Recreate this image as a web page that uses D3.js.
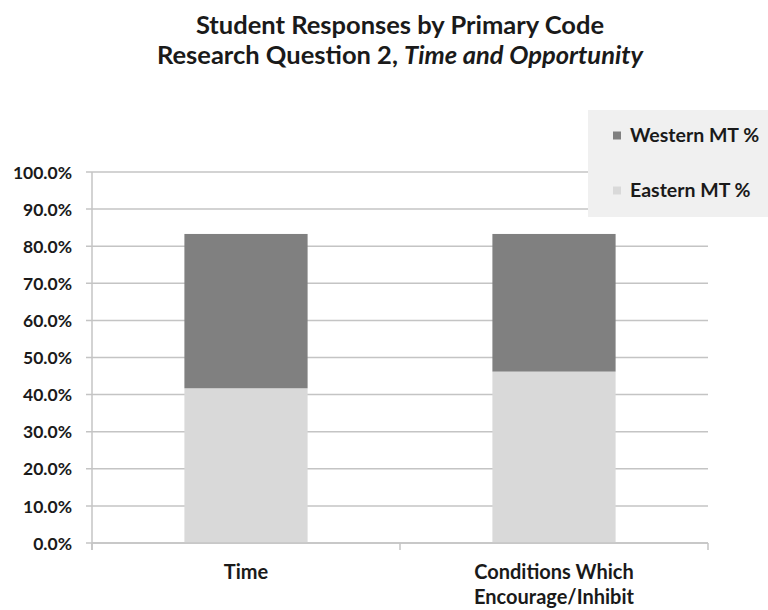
<!DOCTYPE html>
<html>
<head>
<meta charset="utf-8">
<script src="https://cdn.jsdelivr.net/npm/d3@7"></script>
<style>
  body { margin: 0; background: #fff; }
  text { font-family: Lato, "Open Sans", sans-serif; font-weight: bold; fill: #1a1a1a; }
</style>
</head>
<body>
<script>
// chart data
var categories = ["Time", "Conditions Which Encourage/Inhibit"];
var catLines = [["Time"], ["Conditions Which", "Encourage/Inhibit"]];
var easternPct = [0.417, 0.462];
var westernPct = [0.416, 0.371];
var seriesNames = ["Western MT %", "Eastern MT %"];
var yTicks = [0, 0.1, 0.2, 0.3, 0.4, 0.5, 0.6, 0.7, 0.8, 0.9, 1.0];

var w = 768, h = 610;
var svg = d3.select("body").append("svg").attr("width", w).attr("height", h);

var x = d3.scaleBand()
    .domain(categories)
    .range([92, 708])
    .paddingInner(0.6)
    .paddingOuter(0.3);

var y = d3.scaleLinear().domain([0, 1]).range([543, 172]);

// gridlines
svg.append("g")
    .selectAll("line")
    .data(yTicks)
    .enter()
    .append("line")
    .attr("x1", 86)
    .attr("x2", 708)
    .attr("y1", function(d) { return y(d); })
    .attr("y2", function(d) { return y(d); })
    .attr("stroke", "#c4c4c4")
    .attr("stroke-width", 1.5);

// y labels
var yAxis = d3.axisLeft(y).tickValues(yTicks).tickFormat(d3.format(".1%")).tickSize(0).tickPadding(14);
var yg = svg.append("g").attr("transform", "translate(86,0)").call(yAxis);
yg.select(".domain").remove();
yg.selectAll("text").style("font-size", "17.5px").attr("dy", "0.35em");

// stacked bars
var stackData = categories.map(function(c, i) {
    return { cat: c, east: easternPct[i], west: westernPct[i] };
});

svg.append("g")
    .selectAll("rect")
    .data(stackData)
    .enter()
    .append("rect")
    .attr("x", function(d) { return x(d.cat); })
    .attr("width", x.bandwidth())
    .attr("y", function(d) { return y(d.east); })
    .attr("height", function(d) { return y(0) - y(d.east); })
    .attr("fill", "#d9d9d9");

svg.append("g")
    .selectAll("rect")
    .data(stackData)
    .enter()
    .append("rect")
    .attr("x", function(d) { return x(d.cat); })
    .attr("width", x.bandwidth())
    .attr("y", function(d) { return y(d.east + d.west); })
    .attr("height", function(d) { return y(d.east) - y(d.east + d.west); })
    .attr("fill", "#808080");

// axis lines
svg.append("line")
    .attr("x1", 92).attr("x2", 92)
    .attr("y1", y(1)).attr("y2", y(0) + 7)
    .attr("stroke", "#c4c4c4").attr("stroke-width", 1.5);

svg.append("line")
    .attr("x1", 92).attr("x2", 708)
    .attr("y1", y(0)).attr("y2", y(0))
    .attr("stroke", "#c4c4c4").attr("stroke-width", 1.5);

// category separators on x axis
var xTickPos = [x.range()[0], (x(categories[0]) + x(categories[1]) + x.bandwidth()) / 2, x.range()[1]];
svg.append("g")
    .selectAll("line")
    .data(xTickPos)
    .enter()
    .append("line")
    .attr("x1", function(d) { return d; })
    .attr("x2", function(d) { return d; })
    .attr("y1", y(0))
    .attr("y2", y(0) + 7)
    .attr("stroke", "#c4c4c4").attr("stroke-width", 1.5);

// category labels
var cl = svg.append("g")
    .selectAll("text")
    .data(categories)
    .enter()
    .append("text")
    .attr("text-anchor", "middle")
    .style("font-size", "20px");

cl.each(function(d, i) {
    var t = d3.select(this);
    catLines[i].forEach(function(line, j) {
        t.append("tspan")
            .attr("x", x(d) + x.bandwidth() / 2)
            .attr("y", 579 + j * 25)
            .text(line);
    });
});

// title
var title = svg.append("text")
    .attr("text-anchor", "middle")
    .style("font-size", "25.5px");
title.append("tspan").attr("x", 400).attr("y", 34).text("Student Responses by Primary Code");
var t2 = title.append("tspan").attr("x", 400).attr("y", 64);
t2.append("tspan").text("Research Question 2, ");
t2.append("tspan").style("font-style", "italic").text("Time and Opportunity");

// legend
var legend = svg.append("g");
legend.append("rect")
    .attr("x", 588).attr("y", 110)
    .attr("width", 180).attr("height", 107)
    .attr("fill", "#f0f0f0");

var legColors = ["#808080", "#d9d9d9"];
var li = legend.selectAll("g.item")
    .data(seriesNames)
    .enter()
    .append("g")
    .attr("class", "item")
    .attr("transform", function(d, i) { return "translate(613," + (135.5 + i * 55) + ")"; });

li.append("rect")
    .attr("x", 0).attr("y", -4)
    .attr("width", 8).attr("height", 8)
    .attr("fill", function(d, i) { return legColors[i]; });

li.append("text")
    .attr("x", 17)
    .attr("dy", "0.35em")
    .style("font-size", "19.5px")
    .text(function(d) { return d; });
</script>
</body>
</html>
